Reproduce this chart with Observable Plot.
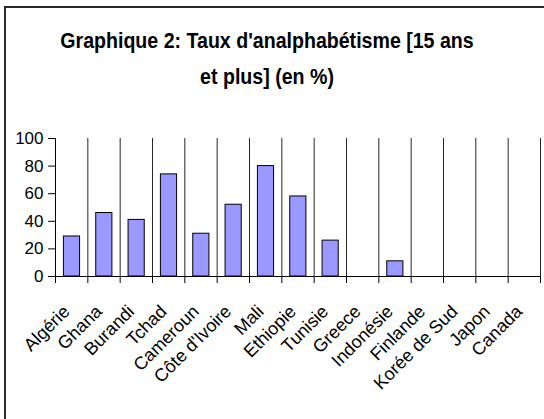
<!DOCTYPE html>
<html><head><meta charset="utf-8">
<script src="https://cdn.jsdelivr.net/npm/d3@7"></script>
<script src="https://cdn.jsdelivr.net/npm/@observablehq/plot@0.6"></script>
<style>
html,body{margin:0;padding:0;background:#fff;overflow:hidden;}
#wrap{position:relative;width:544px;height:419px;overflow:hidden;font-family:"Liberation Sans",Arial,sans-serif;color:#000;}
#frameTop{position:absolute;left:4px;top:6px;width:560px;height:2px;background:#2a2a2a;z-index:3;}
#frameLeft{position:absolute;left:4px;top:6px;width:2px;height:430px;background:#2a2a2a;z-index:3;}
#title{position:relative;height:120px;}
#title .t{position:absolute;left:0;top:23px;width:534px;text-align:center;font-weight:bold;font-size:22px;line-height:36px;transform:scaleX(0.89);transform-origin:267px 0;}
#chart{position:relative;height:299px;}
</style></head><body>
<div id="wrap">
  <div id="frameTop"></div>
  <div id="frameLeft"></div>
  <div id="title"><div class="t">Graphique 2: Taux d'analphabétisme [15 ans<br>et plus] (en %)</div></div>
  <div id="chart"></div>
</div>
<script>
const categories = ["Algérie","Ghana","Burandi","Tchad","Cameroun","Côte d'Ivoire","Mali","Ethiopie","Tunisie","Greece","Indonésie","Finlande","Korée de Sud","Japon","Canada"];
const values = [29, 46, 41, 74, 31, 52, 80, 58, 26, 0, 11, 0, 0, 0, 0];
const yTicks = [0, 20, 40, 60, 80, 100];

const data = categories.map((c, i) => ({country: c, index: i, value: values[i]}));
const boundaries = d3.range(categories.length + 1);
const centers = d3.range(categories.length).map(i => i + 0.5);

const chart = Plot.plot({
  width: 544,
  height: 299,
  marginTop: 18,
  marginBottom: 143,
  marginLeft: 55,
  marginRight: 4,
  x: {type: "linear", domain: [0, categories.length], axis: null, label: null},
  y: {domain: [0, 100], axis: null, label: null},
  style: {background: "transparent", fontFamily: "'Liberation Sans', Arial, sans-serif", color: "#000", overflow: "visible"},
  marks: [
    Plot.ruleX(boundaries.slice(1), {stroke: "#000", strokeOpacity: 0.85}),
    Plot.rectY(data.filter(d => d.value > 0), {x1: d => d.index + 0.26, x2: d => d.index + 0.76, y: "value", fill: "#9999ff", stroke: "#000", strokeWidth: 1}),
    Plot.ruleY([0], {stroke: "#000"}),
    Plot.ruleX([0], {stroke: "#000"}),
    Plot.axisY({ticks: yTicks, tickSize: 7, tickPadding: 5, fontSize: 17, label: null, tickFormat: d => String(d)}),
    Plot.axisX({ticks: boundaries, tickSize: 7, label: null, tickFormat: () => ""}),
    Plot.axisX({ticks: centers, tickSize: 0, tickPadding: 32, dx: -5, tickRotate: -45, fontSize: 18, label: null, tickFormat: d => categories[Math.floor(d)]})
  ]
});
document.getElementById("chart").appendChild(chart);
</script>
</body></html>
